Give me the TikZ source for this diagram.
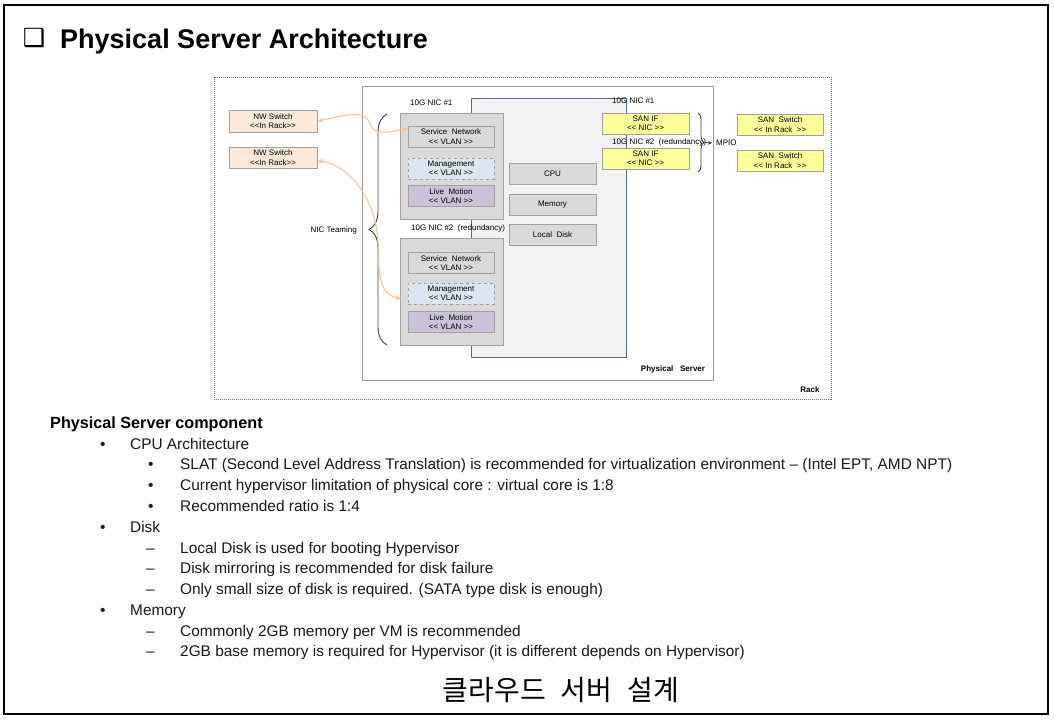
\documentclass[tikz,border=0pt]{standalone}
\usepackage{fontspec}
\usetikzlibrary{arrows.meta,decorations.pathreplacing}
\newfontfamily\diagfont{Liberation Sans}
\newfontfamily\symfont{DejaVu Sans}
\newfontfamily\krfont{Noto Sans CJK KR}[WordSpace=2.4]
\newcommand\smallf{\diagfont\fontsize{8}{9.3}\selectfont}
\newcommand\bodyf{\diagfont\fontsize{15.4}{18}\selectfont}
\definecolor{boxgrey}{HTML}{D9D9D9}
\definecolor{boxline}{HTML}{A0A0A0}
\definecolor{boardfill}{HTML}{F2F2F2}
\definecolor{boardblue}{HTML}{4F6B94}
\definecolor{nwpeach}{HTML}{FDE9D9}
\definecolor{mgmtblue}{HTML}{DCE6F2}
\definecolor{livepurple}{HTML}{CCC1DA}
\definecolor{sanyellow}{HTML}{FFFF99}
\definecolor{linkorange}{HTML}{FAC090}
\tikzset{
	unit/.style={draw=boxline, fill=boxgrey, line width=0.8pt, minimum width=87, minimum height=21, inner sep=0pt, align=center, font=\smallf},
	vlan/.style={unit, minimum width=86},
	mgmt/.style={vlan, fill=mgmtblue, dashed},
	live/.style={vlan, fill=livepurple},
	sanif/.style={unit, fill=sanyellow},
	nwsw/.style={unit, fill=nwpeach, minimum width=88},
	card/.style={draw=boxline, fill=boxgrey, line width=0.8pt, minimum width=103, inner sep=0pt},
	lbl/.style={font=\smallf, inner sep=0pt},
	bodytext/.style={anchor=base west, font=\bodyf, text=black!90, inner sep=0pt},
	link/.style={draw=linkorange, line width=1pt, {Stealth[length=6pt,width=5pt]}-{Stealth[length=6pt,width=5pt]}},
	teaming/.style={draw=black!75, line width=0.9pt, decorate},
}
\begin{document}
\begin{tikzpicture}[x=1pt, y=-1pt]
	\useasboundingbox[fill=white] (0,0) rectangle (1054,721);
	\draw[line width=1.6pt] (4,5) rectangle (1048,714);
	% title
	\node[font=\symfont\fontsize{25}{25}\selectfont, inner sep=0pt] (tick) at (34,38) {❑};
	\node[anchor=base west, font=\diagfont\bfseries\fontsize{27}{30}\selectfont, inner sep=0pt] (title) at (60,48) {Physical Server Architecture};
	% rack, server, board
	\draw[black!55, densely dotted, line width=1pt] (214,77) rectangle (831,399);
	\draw[black!40, line width=0.8pt] (362,86) rectangle (713,380);
	\draw[draw=boardblue, fill=boardfill, line width=0.8pt] (471,98) rectangle (626,357);
	\node[lbl, font=\smallf\bfseries] (rack) at (810,390) {Rack};
	\node[lbl, font=\smallf\bfseries] (server) at (673,369) {Physical~~ Server};
	% NIC cards
	\node[card, minimum height=106] (nic1) at (451.5,166) {};
	\node[card, minimum height=107] (nic2) at (451.5,291.5) {};
	\node[lbl, anchor=west] (nic1lbl) at (410,103) {10G NIC \#1};
	\node[lbl, anchor=west] (nic2lbl) at (411,228) {10G NIC \#2~ (redundancy)};
	\node[vlan] (sn1) at (451,136.5) {Service~ Network\\<< VLAN >>};
	\node[mgmt] (mg1) at (451,168.5) {Management\\<< VLAN >>};
	\node[live] (lm1) at (451,196) {Live~ Motion\\<< VLAN >>};
	\node[vlan] (sn2) at (451,263) {Service~ Network\\<< VLAN >>};
	\node[mgmt] (mg2) at (451,293.5) {Management\\<< VLAN >>};
	\node[live] (lm2) at (451,322) {Live~ Motion\\<< VLAN >>};
	% board parts
	\node[unit] (cpu) at (552.5,173.5) {CPU};
	\node[unit] (mem) at (552.5,205) {Memory};
	\node[unit] (disk) at (552.5,234.5) {Local~ Disk};
	% SAN side
	\node[lbl, anchor=west] (san1lbl) at (612,101) {10G NIC \#1};
	\node[lbl, anchor=west] (san2lbl) at (612,142) {10G NIC \#2~ (redundancy)};
	\node[sanif] (san1) at (645.5,123.5) {SAN IF\\<< NIC >>};
	\node[sanif] (san2) at (645.5,158.5) {SAN IF\\<< NIC >>};
	\node[sanif, minimum width=86] (sw1) at (780,124.5) {SAN~ Switch\\<< In Rack~ >>};
	\node[sanif, minimum width=86] (sw2) at (780,160.5) {SAN~ Switch\\<< In Rack~ >>};
	\node[lbl, anchor=west] (mpio) at (716,143) {MPIO};
	\draw[teaming, decoration={brace, amplitude=6pt}] (698,113) -- (698,172);
	\coordinate (mpiotip) at (705,142.5);
	\draw[black!75, line width=0.8pt, -{Stealth[length=4pt,width=4pt]}] (mpiotip) -- ([xshift=-4pt]mpio.west);
	% NW switches
	\node[nwsw, minimum height=22] (nw1) at (273,121) {NW Switch\\<<In Rack>>};
	\node[nwsw] (nw2) at (273,157.5) {NW Switch\\<<In Rack>>};
	\draw[teaming, decoration={brace, amplitude=18pt}] (387,345) -- (387,114);
	\node[lbl, anchor=east] (teamlbl) at (357,230) {NIC Teaming};
	% links
	\coordinate (sn1in) at ([yshift=8pt]sn1.west);
	\coordinate (mg2in) at ([xshift=-6pt,yshift=-5pt]mg2.west);
	\draw[link] (nw1.east) .. controls (350,114) and (366,110) .. (370,124) .. controls (374,136) and (390,132) .. (sn1in);
	\draw[link] ([yshift=-3pt]nw2.east) .. controls (345,164) and (377,195) .. (378,245) .. controls (378,285) and (384,296) .. (mg2in);
	% component list
	\node[anchor=base west, font=\diagfont\bfseries\fontsize{16.2}{18}\selectfont, inner sep=0pt] (comp) at (50,428) {Physical Server component};
	\node[bodytext] (b1) at (100,449) {•};
	\node[bodytext] (t1) at (130,449) {CPU Architecture};
	\node[bodytext] (b11) at (148,469.5) {•};
	\node[bodytext] (t11) at (180,469.5) {SLAT (Second Level Address Translation) is recommended for virtualization environment – (Intel EPT, AMD NPT)};
	\node[bodytext] (b12) at (148,490.5) {•};
	\node[bodytext] (t12) at (180,490.5) {Current hypervisor limitation of physical core : virtual core is 1:8};
	\node[bodytext] (b13) at (148,511) {•};
	\node[bodytext] (t13) at (180,511) {Recommended ratio is 1:4};
	\node[bodytext] (b2) at (100,532) {•};
	\node[bodytext] (t2) at (130,532) {Disk};
	\node[bodytext] (d21) at (146,553) {–};
	\node[bodytext] (t21) at (180,553) {Local Disk is used for booting Hypervisor};
	\node[bodytext] (d22) at (146,573) {–};
	\node[bodytext] (t22) at (180,573) {Disk mirroring is recommended for disk failure};
	\node[bodytext] (d23) at (146,594) {–};
	\node[bodytext] (t23) at (180,594) {Only small size of disk is required. (SATA type disk is enough)};
	\node[bodytext] (b3) at (100,615) {•};
	\node[bodytext] (t3) at (130,615) {Memory};
	\node[bodytext] (d31) at (146,636) {–};
	\node[bodytext] (t31) at (180,636) {Commonly 2GB memory per VM is recommended};
	\node[bodytext] (d32) at (146,656.5) {–};
	\node[bodytext] (t32) at (180,656.5) {2GB base memory is required for Hypervisor (it is different depends on Hypervisor)};
	\node[font=\krfont\fontsize{28}{30}\selectfont, inner sep=0pt] (footer) at (561,690) {클라우드 서버 설계};
\end{tikzpicture}
\end{document}
